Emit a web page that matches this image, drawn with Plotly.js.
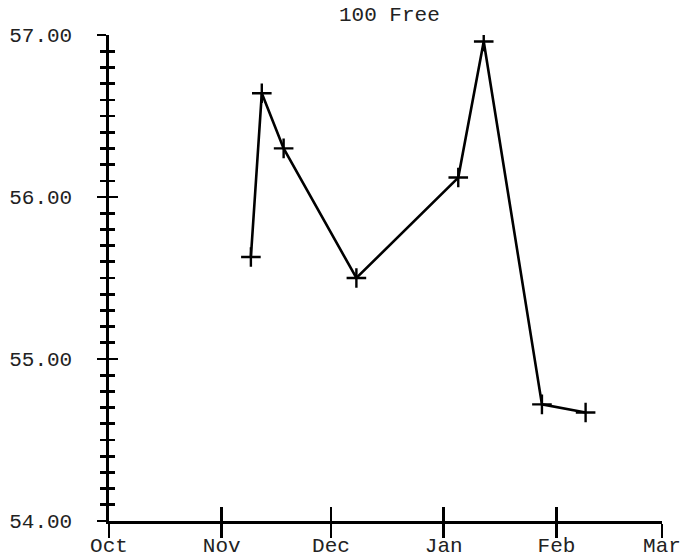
<!DOCTYPE html>
<html>
<head>
<meta charset="utf-8">
<script src="https://cdn.plot.ly/plotly-3.0.1.min.js"></script>
<style>html,body{margin:0;padding:0;background:#fff;}#chart{width:682px;height:559px;}</style>
</head>
<body>
<div id="chart"></div>
<script>
const chartTitle = "100 Free";
const swimDates = ["2023-11-09","2023-11-12","2023-11-18","2023-12-08","2024-01-05","2024-01-12","2024-01-28","2024-02-09"];
const swimTimes = [55.63, 56.64, 56.30, 55.50, 56.12, 56.96, 54.72, 54.67];
const xRange = ["2023-10-01","2024-03-01"];
const yRange = [54, 57];

const FONT = {family: "Liberation Mono, Courier New, monospace", size: 21, color: "#222"};

const traces = [
  {
    x: swimDates, y: swimTimes, type: "scatter", mode: "lines+markers",
    line: {color: "#000", width: 2.6},
    marker: {symbol: "cross-thin", size: 14, color: "#000", line: {color: "#000", width: 2.4}},
    hoverinfo: "skip", showlegend: false
  },
  {
    x: [], y: [], xaxis: "x2", yaxis: "y2", type: "scatter", mode: "markers",
    showlegend: false, hoverinfo: "skip"
  }
];

const common = {showgrid: false, zeroline: false, showline: true, linecolor: "#000", linewidth: 2.6, tickcolor: "#000", tickwidth: 2.6};

const layout = {
  width: 682, height: 559,
  margin: {l: 109, r: 20, t: 35, b: 38},
  paper_bgcolor: "#fff", plot_bgcolor: "#fff",
  font: FONT,
  title: {text: chartTitle, font: FONT, x: 0.507, xref: "paper", y: 0.975, yref: "container", yanchor: "middle"},
  xaxis: Object.assign({}, common, {
    type: "date", range: xRange, dtick: "M1", tick0: "2023-10-01", tickformat: "%b",
    ticks: "inside", ticklen: 14, ticklabelstandoff: 3, tickfont: FONT, fixedrange: true
  }),
  yaxis: Object.assign({}, common, {
    range: yRange, dtick: 1, tickformat: ".2f",
    ticks: "outside", ticklen: 9, ticklabelstandoff: 21, tickfont: FONT,
    minor: {dtick: 0.1, ticks: "outside", ticklen: 6, tickwidth: 2.6, tickcolor: "#000", showgrid: false}
  }),
  xaxis2: Object.assign({}, common, {
    type: "date", range: xRange, dtick: "M1", tick0: "2023-10-01", overlaying: "x", anchor: "y2", side: "bottom",
    ticks: "outside", ticklen: 14, showticklabels: false
  }),
  yaxis2: Object.assign({}, common, {
    range: yRange, dtick: 1, overlaying: "y", anchor: "x2", side: "left",
    ticks: "inside", ticklen: 9, showticklabels: false,
    minor: {dtick: 0.1, ticks: "inside", ticklen: 6, tickwidth: 2.6, tickcolor: "#000", showgrid: false}
  })
};

Plotly.newPlot("chart", traces, layout, {displayModeBar: false, staticPlot: true});
</script>
</body>
</html>
